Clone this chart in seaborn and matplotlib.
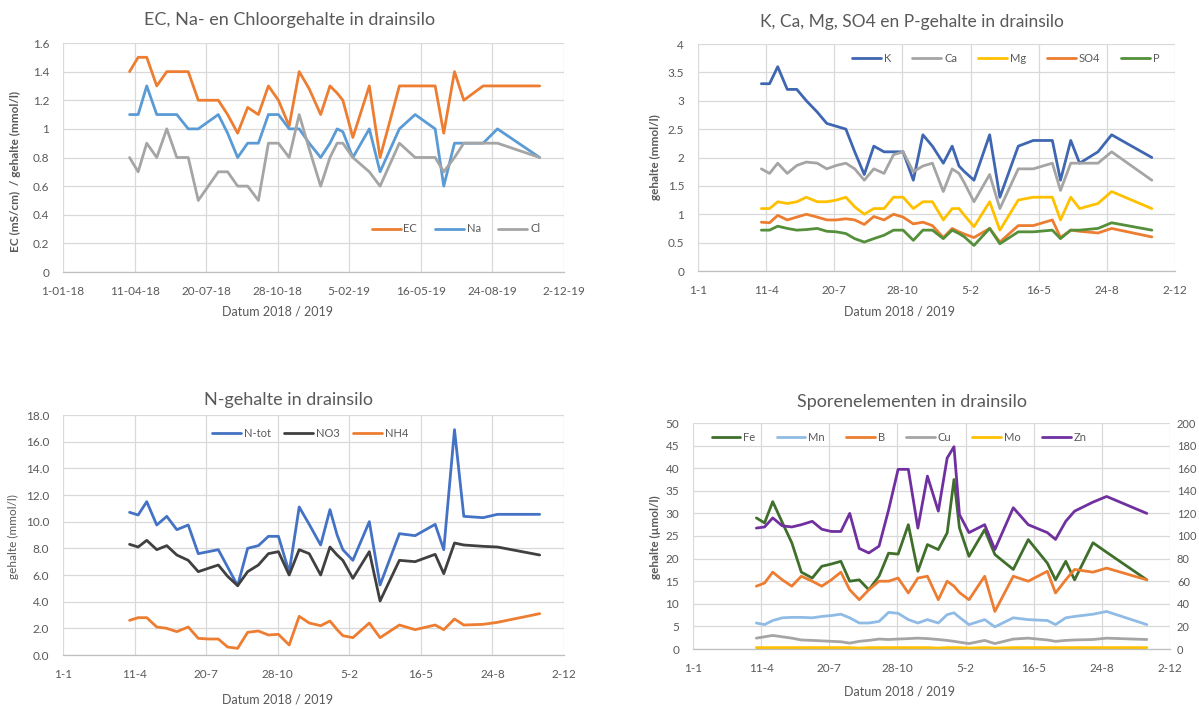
import matplotlib
matplotlib.use("Agg")
import numpy as np
import pandas as pd
import matplotlib.pyplot as plt
import matplotlib.dates as mdates
import seaborn as sns

# ---------------------------------------------------------------- data
sample_dates = ["2018-04-04", "2018-04-16", "2018-04-28", "2018-05-12", "2018-05-26",
                "2018-06-09", "2018-06-25", "2018-07-09", "2018-07-23", "2018-08-06",
                "2018-08-19", "2018-09-02", "2018-09-16", "2018-10-01", "2018-10-15",
                "2018-10-29", "2018-11-13", "2018-11-27", "2018-12-11", "2018-12-27",
                "2019-01-09", "2019-01-19", "2019-01-27", "2019-02-10", "2019-03-05",
                "2019-03-20", "2019-04-16", "2019-05-08", "2019-06-05", "2019-06-17",
                "2019-07-02", "2019-07-15", "2019-08-11", "2019-08-31", "2019-10-29"]

# EC (mS/cm), Na and Cl (mmol/l)
ec = [1.4, 1.5, 1.5, 1.3, 1.4, 1.4, 1.4, 1.2, 1.2, 1.2, 1.1, 0.97, 1.15, 1.1, 1.3,
      1.2, 1.02, 1.4, 1.28, 1.1, 1.3, 1.25, 1.2, 0.94, 1.3, 0.8, 1.3, 1.3, 1.3, 0.97,
      1.4, 1.2, 1.3, 1.3, 1.3]
na = [1.1, 1.1, 1.3, 1.1, 1.1, 1.1, 1.0, 1.0, 1.05, 1.1, 0.97, 0.8, 0.9, 0.9, 1.1,
      1.1, 1.0, 1.0, 0.9, 0.8, 0.9, 1.0, 0.98, 0.8, 1.0, 0.7, 1.0, 1.1, 1.0, 0.6,
      0.9, 0.9, 0.9, 1.0, 0.8]
cl = [0.8, 0.7, 0.9, 0.8, 1.0, 0.8, 0.8, 0.5, 0.6, 0.7, 0.7, 0.6, 0.6, 0.5, 0.9,
      0.9, 0.8, 1.1, 0.86, 0.6, 0.8, 0.9, 0.9, 0.8, 0.7, 0.6, 0.9, 0.8, 0.8, 0.7,
      0.8, 0.9, 0.9, 0.9, 0.8]

# K, Ca, Mg, SO4, P (mmol/l)
k = [3.3, 3.3, 3.6, 3.2, 3.2, 3.0, 2.8, 2.6, 2.55, 2.5, 2.1, 1.7, 2.2, 2.1, 2.1,
     2.1, 1.6, 2.4, 2.2, 1.9, 2.2, 1.85, 1.75, 1.6, 2.4, 1.3, 2.2, 2.3, 2.3, 1.6,
     2.3, 1.9, 2.1, 2.4, 2.0]
ca = [1.8, 1.72, 1.9, 1.72, 1.86, 1.92, 1.9, 1.8, 1.86, 1.9, 1.8, 1.6, 1.8, 1.72, 2.05,
      2.1, 1.75, 1.85, 1.9, 1.4, 1.8, 1.72, 1.55, 1.22, 1.7, 1.1, 1.8, 1.8, 1.9, 1.42,
      1.9, 1.9, 1.9, 2.1, 1.6]
mg = [1.1, 1.1, 1.22, 1.19, 1.22, 1.3, 1.22, 1.22, 1.25, 1.3, 1.13, 1.0, 1.1, 1.1, 1.3,
      1.3, 1.1, 1.22, 1.22, 0.9, 1.1, 1.1, 0.98, 0.78, 1.22, 0.72, 1.25, 1.3, 1.3, 0.9,
      1.3, 1.1, 1.19, 1.4, 1.1]
so4 = [0.86, 0.85, 0.98, 0.9, 0.95, 1.0, 0.95, 0.9, 0.9, 0.92, 0.9, 0.82, 0.96, 0.9, 1.0,
       0.95, 0.83, 0.86, 0.8, 0.59, 0.75, 0.69, 0.65, 0.59, 0.75, 0.51, 0.8, 0.8, 0.9, 0.59,
       0.72, 0.7, 0.67, 0.75, 0.6]
p = [0.72, 0.72, 0.79, 0.75, 0.72, 0.73, 0.75, 0.7, 0.69, 0.66, 0.57, 0.51, 0.57, 0.63, 0.72,
     0.72, 0.54, 0.72, 0.72, 0.57, 0.72, 0.66, 0.6, 0.45, 0.75, 0.48, 0.69, 0.69, 0.72, 0.57,
     0.72, 0.72, 0.75, 0.85, 0.72]

# N-tot, NO3, NH4 (mmol/l)
n_tot = [10.7, 10.5, 11.5, 9.75, 10.4, 9.4, 9.75, 7.6, 7.75, 7.9, 6.6, 5.2, 8.0, 8.2, 8.9,
         8.9, 6.2, 11.1, 9.8, 8.25, 10.9, 9.0, 7.9, 7.1, 10.0, 5.25, 9.1, 8.95, 9.8, 7.9,
         16.9, 10.4, 10.3, 10.55, 10.55]
no3 = [8.3, 8.1, 8.6, 7.9, 8.2, 7.5, 7.1, 6.25, 6.5, 6.75, 5.9, 5.2, 6.25, 6.75, 7.6,
       7.75, 6.0, 7.9, 7.6, 6.0, 8.1, 7.5, 7.1, 5.75, 7.75, 4.05, 7.1, 7.0, 7.55, 6.1,
       8.4, 8.25, 8.15, 8.1, 7.5]
nh4 = [2.6, 2.8, 2.8, 2.1, 2.0, 1.75, 2.1, 1.25, 1.2, 1.2, 0.6, 0.5, 1.7, 1.8, 1.5,
       1.55, 0.75, 2.9, 2.4, 2.2, 2.55, 1.9, 1.45, 1.3, 2.4, 1.3, 2.25, 1.9, 2.25, 1.9,
       2.7, 2.25, 2.3, 2.45, 3.1]

# trace elements (umol/l); Zn on the secondary axis
fe = [29.0, 27.9, 32.6, 28.0, 23.5, 17.0, 15.7, 18.3, 18.8, 19.4, 15.0, 15.3, 13.1, 16.1, 21.2,
      21.0, 27.5, 17.2, 23.1, 22.0, 25.7, 37.5, 26.8, 20.5, 26.4, 20.9, 17.6, 24.2, 19.0, 15.3,
      19.4, 15.3, 23.5, 21.4, 15.3]
mn = [5.75, 5.4, 6.3, 6.9, 7.0, 7.0, 6.9, 7.2, 7.4, 7.7, 6.9, 5.75, 5.75, 6.1, 8.1,
      7.9, 6.5, 5.75, 6.5, 5.75, 7.6, 8.0, 7.0, 5.4, 6.5, 4.9, 6.9, 6.5, 6.3, 5.4,
      6.9, 7.2, 7.7, 8.3, 5.4]
b = [13.9, 14.6, 17.0, 15.3, 13.9, 16.1, 15.0, 13.9, 15.3, 17.0, 13.1, 10.9, 13.1, 15.0, 15.0,
     15.7, 12.4, 15.7, 16.1, 10.9, 15.0, 13.9, 12.5, 10.9, 16.1, 8.3, 16.1, 15.0, 17.2, 12.4,
     15.3, 17.6, 17.0, 17.9, 15.3]
cu = [2.4, 2.7, 3.0, 2.7, 2.4, 2.0, 1.9, 1.8, 1.7, 1.6, 1.3, 1.7, 1.9, 2.2, 2.1,
      2.2, 2.3, 2.4, 2.3, 2.1, 1.9, 1.7, 1.5, 1.2, 1.9, 1.2, 2.2, 2.4, 2.0, 1.7,
      1.9, 2.0, 2.1, 2.4, 2.1]
mo = [0.3, 0.3, 0.3, 0.3, 0.3, 0.3, 0.3, 0.3, 0.3, 0.3, 0.3, 0.2, 0.3, 0.3, 0.3,
      0.3, 0.3, 0.3, 0.3, 0.2, 0.3, 0.3, 0.3, 0.2, 0.3, 0.2, 0.3, 0.3, 0.3, 0.3,
      0.3, 0.3, 0.3, 0.3, 0.3]
zn = [107, 108, 116, 109, 108, 110, 113, 106, 104, 104, 120, 89, 85, 91, 123,
      159, 159, 107, 153, 122, 169, 179, 119, 103, 110, 88, 125, 110, 103, 97,
      113, 122, 130, 135, 120]

# axis tick labels
x_tick_dates = ["2018-01-01", "2018-04-11", "2018-07-20", "2018-10-28",
                "2019-02-05", "2019-05-16", "2019-08-24", "2019-12-02"]
x_labels_long = ["1-01-18", "11-04-18", "20-07-18", "28-10-18",
                 "5-02-19", "16-05-19", "24-08-19", "2-12-19"]
x_labels_short = ["1-1", "11-4", "20-7", "28-10", "5-2", "16-5", "24-8", "2-12"]
y_labels_ec = ["0", "0.2", "0.4", "0.6", "0.8", "1", "1.2", "1.4", "1.6"]
y_labels_k = ["0", "0.5", "1", "1.5", "2", "2.5", "3", "3.5", "4"]
y_labels_n = ["0.0", "2.0", "4.0", "6.0", "8.0", "10.0", "12.0", "14.0", "16.0", "18.0"]
y_labels_tr = ["0", "5", "10", "15", "20", "25", "30", "35", "40", "45", "50"]
y_labels_zn = ["0", "20", "40", "60", "80", "100", "120", "140", "160", "180", "200"]

# ---------------------------------------------------------------- style
sns.set_style("white")
plt.rcParams["font.family"] = ["Lato", "DejaVu Sans"]

TXT = "#595959"
GRID = "#D9D9D9"
W, H = 1199, 709

dates = pd.to_datetime(sample_dates)
xticks = pd.to_datetime(x_tick_dates)

fig = plt.figure(figsize=(W / 100, H / 100), dpi=100)


def rect(l, t, r, bt):
    return [l / W, 1 - bt / H, (r - l) / W, (bt - t) / H]


def ftext(x, y, s, **kw):
    fig.text(x / W, 1 - y / H, s, ha="center", va="center", color=TXT, **kw)


def style_axis(ax, xlabels, ylabels):
    ax.set_xlim(xticks[0], xticks[-1])
    ax.set_xticks(xticks)
    ax.set_xticklabels(xlabels)
    yv = [float(v) for v in ylabels]
    ax.set_ylim(yv[0], yv[-1])
    ax.set_yticks(yv)
    ax.set_yticklabels(ylabels)
    ax.grid(True, color=GRID, lw=0.9)
    ax.set_axisbelow(True)
    for s in ["top", "right", "left"]:
        ax.spines[s].set_visible(False)
    ax.spines["bottom"].set_color("#BFBFBF")
    ax.spines["bottom"].set_linewidth(0.9)
    ax.tick_params(axis="x", length=4, color="#BFBFBF", labelsize=8.5,
                   labelcolor=TXT, pad=6)
    ax.tick_params(axis="y", length=0, labelsize=8.5, labelcolor=TXT, pad=10)
    ax.set_xlabel("")
    ax.set_ylabel("")


def draw(ax, series):
    for name, vals, color in series:
        sns.lineplot(x=dates, y=vals, ax=ax, color=color, lw=2.0, label=name,
                     estimator=None, sort=False)
    if ax.get_legend() is not None:
        ax.get_legend().remove()


def add_legend(ax, handles, labels, cx, cy, ncol, spacing):
    leg = ax.legend(handles, labels, loc="center",
                    bbox_to_anchor=(cx / W, 1 - cy / H), bbox_transform=fig.transFigure,
                    ncol=ncol, frameon=False, fontsize=8, handlelength=2.6,
                    handletextpad=0.25, columnspacing=spacing)
    for t in leg.get_texts():
        t.set_color(TXT)


# ---------------------------------------------------------------- EC, Na, Cl
ax1 = fig.add_axes(rect(63, 43, 564, 272))
draw(ax1, [("EC", ec, "#ED7D31"), ("Na", na, "#5B9BD5"), ("Cl", cl, "#A5A5A5")])
style_axis(ax1, x_labels_long, y_labels_ec)
h, l = ax1.get_legend_handles_labels()
add_legend(ax1, h, l, 456, 229, 3, 1.6)
ftext(290, 20, "EC, Na- en Chloorgehalte in drainsilo", fontsize=13)
ftext(15, 171, "EC (mS/cm)  / gehalte (mmol/l)", fontsize=8.5, rotation=90,
      fontweight="bold")
ftext(277, 312, "Datum 2018 / 2019", fontsize=9)

# ---------------------------------------------------------------- K, Ca, Mg, SO4, P
ax2 = fig.add_axes(rect(698, 44, 1175, 271))
draw(ax2, [("K", k, "#3F66B0"), ("Ca", ca, "#A5A5A5"), ("Mg", mg, "#FFC000"),
           ("SO4", so4, "#ED7D31"), ("P", p, "#548F3A")])
style_axis(ax2, x_labels_short, y_labels_k)
h, l = ax2.get_legend_handles_labels()
add_legend(ax2, h, l, 1006, 58, 5, 1.9)
ftext(912, 22, "K, Ca, Mg, SO4 en P-gehalte in drainsilo", fontsize=12.5)
ftext(655, 157, "gehalte (mmol/l)", fontsize=8.5, rotation=90, fontweight="bold")
ftext(900, 311, "Datum 2018 / 2019", fontsize=9)

# ---------------------------------------------------------------- N
ax3 = fig.add_axes(rect(63, 415, 564, 655))
draw(ax3, [("N-tot", n_tot, "#4472C4"), ("NO3", no3, "#404040"),
           ("NH4", nh4, "#ED7D31")])
style_axis(ax3, x_labels_short, y_labels_n)
h, l = ax3.get_legend_handles_labels()
add_legend(ax3, h, l, 310, 433, 3, 1.2)
ftext(288, 400, "N-gehalte in drainsilo", fontsize=13)
ftext(13, 537, "gehalte (mmol/l)", fontsize=8.5, rotation=90)
ftext(277, 700, "Datum 2018 / 2019", fontsize=9)

# ---------------------------------------------------------------- trace elements
ax4 = fig.add_axes(rect(693, 423, 1170, 649))
draw(ax4, [("Fe", fe, "#3F6F2A"), ("Mn", mn, "#8FBBE5"), ("B", b, "#ED7D31"),
           ("Cu", cu, "#A5A5A5"), ("Mo", mo, "#FFC000")])
style_axis(ax4, x_labels_short, y_labels_tr)
ax5 = ax4.twinx()
sns.lineplot(x=dates, y=zn, ax=ax5, color="#7030A0", lw=2.0, label="Zn",
             estimator=None, sort=False)
if ax5.get_legend() is not None:
    ax5.get_legend().remove()
zv = [float(v) for v in y_labels_zn]
ax5.set_ylim(zv[0], zv[-1])
ax5.set_yticks(zv)
ax5.set_yticklabels(y_labels_zn)
ax5.set_ylabel("")
ax5.tick_params(axis="y", length=0, labelsize=8, labelcolor=TXT, pad=5)
for s in ax5.spines.values():
    s.set_visible(False)
h1, l1 = ax4.get_legend_handles_labels()
h2, l2 = ax5.get_legend_handles_labels()
add_legend(ax5, h1 + h2, l1 + l2, 899, 437, 6, 1.9)
ftext(912, 402, "Sporenelementen in drainsilo", fontsize=13)
ftext(655, 537, "gehalte (\u00b5mol/l)", fontsize=8.5, rotation=90, fontweight="bold")
ftext(900, 692, "Datum 2018 / 2019", fontsize=9)

fig.savefig("out.png", dpi=100, facecolor="white")
